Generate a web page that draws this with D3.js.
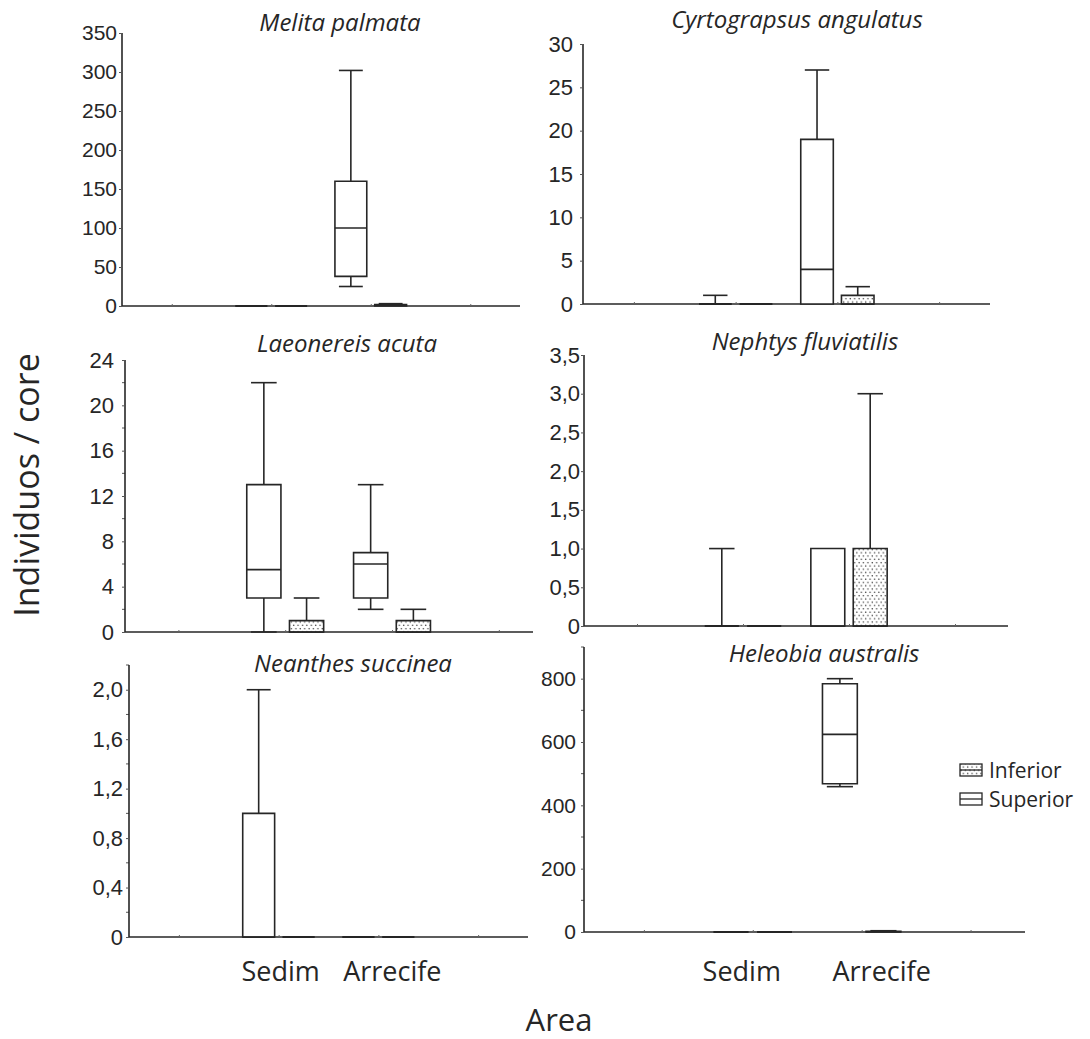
<!DOCTYPE html>
<html>
<head>
<meta charset="utf-8">
<script src="https://cdn.jsdelivr.net/npm/d3@7"></script>
<style>
  body { margin: 0; background: #fff; }
  svg { display: block; }
</style>
</head>
<body>
<svg id="chart" width="1090" height="1039"></svg>
<script>
// ---- data -------------------------------------------------------------
const speciesNames = [
  "Melita palmata", "Cyrtograpsus angulatus",
  "Laeonereis acuta", "Nephtys fluviatilis",
  "Neanthes succinea", "Heleobia australis"
];
const areaLabels = ["Sedim", "Arrecife"];
const layerLabels = ["Superior", "Inferior"];

// box order: Sedim-Superior, Sedim-Inferior, Arrecife-Superior, Arrecife-Inferior
// each box: [min, q1, median, q3, max]  (individuos / core)
const melitaPalmata       = [[0,0,0,0,0], [0,0,0,0,0], [25,38,100,160,302], [0,0,1,2,3]];
const cyrtograpsusAngul   = [[0,0,0,0,1], [0,0,0,0,0], [0,0,4,19,27], [0,0,0,1,2]];
const laeonereisAcuta     = [[0,3,5.5,13,22], [0,0,0,1,3], [2,3,6,7,13], [0,0,0,1,2]];
const nephtysFluviatilis  = [[0,0,0,0,1], [0,0,0,0,0], [0,0,0,1,1], [0,0,0,1,3]];
const neanthesSuccinea    = [[0,0,0,1,2], [0,0,0,0,0], [0,0,0,0,0], [0,0,0,0,0]];
const heleobiaAustralis   = [[0,0,0,0,0], [0,0,0,0,0], [459,468,624,784,800], [0,0,1,2,4]];
const speciesData = [melitaPalmata, cyrtograpsusAngul, laeonereisAcuta,
                     nephtysFluviatilis, neanthesSuccinea, heleobiaAustralis];

// y axis: top of axis, labelled ticks, minor tick step (0 = none)
const yDomainMax = [350, 30, 24, 3.5, 2.2, 900];
const yTicksMelita   = [0, 50, 100, 150, 200, 250, 300, 350];
const yTicksCyrto    = [0, 5, 10, 15, 20, 25, 30];
const yTicksLaeo     = [0, 4, 8, 12, 16, 20, 24];
const yTicksNephtys  = [0, 0.5, 1, 1.5, 2, 2.5, 3, 3.5];
const yTicksNeanthes = [0, 0.4, 0.8, 1.2, 1.6, 2.0];
const yTicksHeleobia = [0, 200, 400, 600, 800];
const yTickSets = [yTicksMelita, yTicksCyrto, yTicksLaeo, yTicksNephtys, yTicksNeanthes, yTicksHeleobia];
const yMinorStep = [0, 0, 2, 0, 0.2, 100];
const yDecimals  = [0, 0, 0, 1, 1, 0];

// x positions: 0..3 category slots, Sedim = 1, Arrecife = 2
const xTickSlots = [0, 1, 2, 3];

// ---- layout -----------------------------------------------------------
const panels = [
  { left: 122, right: 520,  top: 33,  bottom: 306, xMin: -0.5,  xMax: 3.5,  titleX: 340, titleY: 31,  pad: 2, fs: 21 },
  { left: 583, right: 990,  top: 44,  bottom: 304, xMin: -0.5,  xMax: 3.5,  titleX: 797, titleY: 28,  pad: 7, fs: 22 },
  { left: 125, right: 533,  top: 360, bottom: 632, xMin: -0.5,  xMax: 3.32, titleX: 347, titleY: 352, pad: 8, fs: 22 },
  { left: 584, right: 1008, top: 355, bottom: 626, xMin: -0.5,  xMax: 3.5,  titleX: 805, titleY: 350, pad: 1, fs: 22 },
  { left: 129, right: 528,  top: 665, bottom: 937, xMin: -0.5,  xMax: 3.5,  titleX: 353, titleY: 672, pad: 3, fs: 22 },
  { left: 584, right: 1025, top: 647, bottom: 932, xMin: -0.55, xMax: 3.5,  titleX: 824, titleY: 662, pad: 5, fs: 21 }
];
const boxHalf = 0.16, capHalf = 0.12, layerShift = 0.2;
const ink = "#262626";

const svg = d3.select("#chart");

// stipple fill for the lower layer
const defs = svg.append("defs");
const pat = defs.append("pattern")
  .attr("id", "stipple").attr("patternUnits", "userSpaceOnUse")
  .attr("width", 4.4).attr("height", 6.6);
pat.append("rect").attr("width", 4.4).attr("height", 6.6).attr("fill", "#fff");
pat.append("circle").attr("cx", 1.1).attr("cy", 1.6).attr("r", 0.75).attr("fill", "#333");
pat.append("circle").attr("cx", 3.3).attr("cy", 4.9).attr("r", 0.75).attr("fill", "#333");

const fmt = (d, dec) => d === 0 ? "0" : d3.format(dec ? ".1f" : "d")(d).replace(".", ",");

const xScales = [];

panels.forEach((p, i) => {
  const g = svg.append("g");
  const x = d3.scaleLinear().domain([p.xMin, p.xMax]).range([p.left, p.right]);
  const y = d3.scaleLinear().domain([0, yDomainMax[i]]).range([p.bottom, p.top]);
  xScales.push(x);

  // minor y ticks
  if (yMinorStep[i] > 0) {
    const minor = d3.range(yMinorStep[i], yDomainMax[i] + 1e-9, yMinorStep[i])
      .filter(v => !yTickSets[i].some(t => Math.abs(t - v) < 1e-9));
    g.selectAll(".minor").data(minor).join("line")
      .attr("x1", p.left - 3).attr("x2", p.left)
      .attr("y1", d => y(d)).attr("y2", d => y(d))
      .attr("stroke", "#555").attr("stroke-width", 1);
  }

  // y axis
  const yAxis = d3.axisLeft(y).tickValues(yTickSets[i])
    .tickSize(3).tickPadding(p.pad).tickFormat(d => fmt(d, yDecimals[i]));
  const ya = g.append("g").attr("transform", `translate(${p.left},0)`).call(yAxis);
  ya.select(".domain").attr("stroke", ink).attr("stroke-width", 1.6)
    .attr("d", `M0,${p.top}V${p.bottom}`);
  ya.selectAll(".tick line").attr("stroke", "#555").attr("stroke-width", 1);
  ya.selectAll(".tick text")
    .attr("font-family", "'Liberation Sans', Arial, sans-serif")
    .attr("font-size", p.fs).attr("fill", ink);

  // x axis (small inner ticks only)
  const xAxis = d3.axisBottom(x).tickValues(xTickSlots).tickSize(-2).tickFormat("");
  const xa = g.append("g").attr("transform", `translate(0,${p.bottom})`).call(xAxis);
  xa.select(".domain").attr("stroke", ink).attr("stroke-width", 1.6)
    .attr("d", `M${p.left},0H${p.right}`);
  xa.selectAll(".tick line").attr("stroke", "#666").attr("stroke-width", 1);

  // title
  g.append("text").attr("x", p.titleX).attr("y", p.titleY)
    .attr("text-anchor", "middle")
    .attr("font-family", "'Open Sans', sans-serif").attr("font-style", "italic")
    .attr("font-size", 24).attr("fill", ink)
    .text(speciesNames[i]);

  // boxes
  const boxes = speciesData[i].map((v, k) => ({
    area: Math.floor(k / 2), layer: k % 2,
    min: v[0], q1: v[1], med: v[2], q3: v[3], max: v[4]
  }));
  const bg = g.append("g").attr("fill", "none").attr("stroke", ink).attr("stroke-width", 1.6);
  boxes.forEach(b => {
    const c = (b.area + 1) + (b.layer === 0 ? -layerShift : layerShift);
    const x0 = x(c - boxHalf), x1 = x(c + boxHalf), xc = x(c);
    const cx0 = x(c - capHalf), cx1 = x(c + capHalf);
    // whiskers
    if (b.max > b.q3) {
      bg.append("line").attr("x1", xc).attr("x2", xc).attr("y1", y(b.q3)).attr("y2", y(b.max));
      bg.append("line").attr("x1", cx0).attr("x2", cx1).attr("y1", y(b.max)).attr("y2", y(b.max));
    }
    if (b.min < b.q1) {
      bg.append("line").attr("x1", xc).attr("x2", xc).attr("y1", y(b.q1)).attr("y2", y(b.min));
      bg.append("line").attr("x1", cx0).attr("x2", cx1).attr("y1", y(b.min)).attr("y2", y(b.min));
    }
    // box (path so zero-height boxes still show as a line)
    bg.append("path")
      .attr("d", `M${x0},${y(b.q1)}H${x1}V${y(b.q3)}H${x0}Z`)
      .attr("fill", b.layer === 1 ? "url(#stipple)" : "#fff")
      .attr("stroke-width", b.q3 === b.q1 ? 2.2 : 1.6);
    bg.append("line").attr("x1", x0).attr("x2", x1).attr("y1", y(b.med)).attr("y2", y(b.med));
  });
});

// category labels under the bottom row
const catShift = [[2, 14], [-11, 20]];
[4, 5].forEach((pi, j) => {
  const x = xScales[pi];
  areaLabels.forEach((lab, k) => {
    svg.append("text")
      .attr("x", x(k + 1) + catShift[j][k]).attr("y", 981)
      .attr("text-anchor", "middle")
      .attr("font-family", "'Open Sans', sans-serif").attr("font-size", 27)
      .attr("fill", ink).text(lab);
  });
});

// axis titles
svg.append("text").attr("x", 559).attr("y", 1031)
  .attr("text-anchor", "middle")
  .attr("font-family", "'Open Sans', sans-serif").attr("font-size", 31)
  .attr("fill", ink).text("Area");

svg.append("text")
  .attr("transform", "translate(39,485) rotate(-90)")
  .attr("text-anchor", "middle")
  .attr("font-family", "'Open Sans', sans-serif").attr("font-size", 34)
  .attr("fill", ink).text("Individuos / core");

// legend
const legend = svg.append("g").attr("transform", "translate(960,762)");
["Inferior", "Superior"].forEach((lab, k) => {
  const row = legend.append("g").attr("transform", `translate(0,${k * 29})`);
  row.append("rect").attr("x", 0).attr("y", 2).attr("width", 22).attr("height", 12)
    .attr("fill", lab === "Inferior" ? "url(#stipple)" : "#fff")
    .attr("stroke", ink).attr("stroke-width", 1.3);
  row.append("line").attr("x1", 0).attr("x2", 22).attr("y1", 8).attr("y2", 8)
    .attr("stroke", ink).attr("stroke-width", 1.3);
  row.append("text").attr("x", 29).attr("y", 16)
    .attr("font-family", "'Open Sans', sans-serif").attr("font-size", 21)
    .attr("fill", ink).text(lab);
});
</script>
</body>
</html>
